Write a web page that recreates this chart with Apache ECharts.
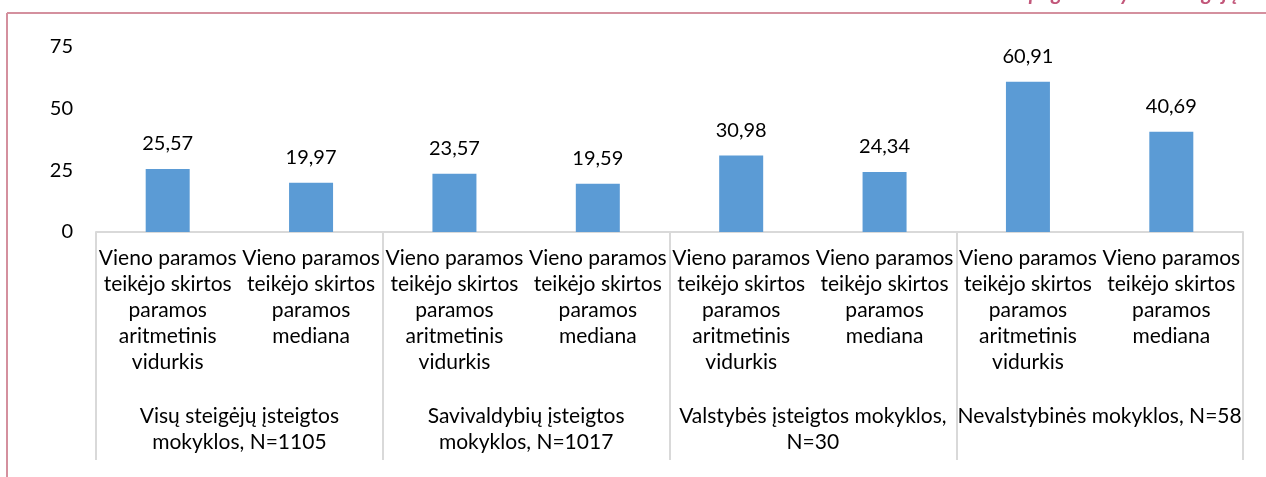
<!DOCTYPE html>
<html>
<head>
<meta charset="utf-8">
<script src="https://cdn.jsdelivr.net/npm/echarts@6/dist/echarts.min.js"></script>
<style>
  html, body { margin: 0; padding: 0; background: #fff; }
  #chart { width: 1266px; height: 477px; }
</style>
</head>
<body>
<div id="chart"></div>
<script>
// Vieno paramos teikėjo skirtos paramos vidurkis ir mediana pagal mokyklų grupes
const categories = [
  "Vieno paramos\nteikėjo skirtos\nparamos\naritmetinis\nvidurkis",
  "Vieno paramos\nteikėjo skirtos\nparamos\nmediana",
  "Vieno paramos\nteikėjo skirtos\nparamos\naritmetinis\nvidurkis",
  "Vieno paramos\nteikėjo skirtos\nparamos\nmediana",
  "Vieno paramos\nteikėjo skirtos\nparamos\naritmetinis\nvidurkis",
  "Vieno paramos\nteikėjo skirtos\nparamos\nmediana",
  "Vieno paramos\nteikėjo skirtos\nparamos\naritmetinis\nvidurkis",
  "Vieno paramos\nteikėjo skirtos\nparamos\nmediana"
];
const groups = [
  "Visų steigėjų įsteigtos\nmokyklos, N=1105",
  "Savivaldybių įsteigtos\nmokyklos, N=1017",
  "Valstybės įsteigtos mokyklos,\nN=30",
  "Nevalstybinės mokyklos, N=58"
];
const values = [25.57, 19.97, 23.57, 19.59, 30.98, 24.34, 60.91, 40.69];
const yTicks = [0, 25, 50, 75];

const FONT = "Lato";
const chart = echarts.init(document.getElementById("chart"), null, { renderer: "canvas" });
chart.setOption({
  backgroundColor: "#fff",
  animation: false,
  textStyle: { fontFamily: FONT },
  grid: { left: 96, right: 23, top: 47, bottom: 245, containLabel: false },
  yAxis: {
    type: "value",
    min: yTicks[0],
    max: yTicks[yTicks.length - 1],
    interval: 25,
    axisLine: { show: false },
    axisTick: { show: false },
    splitLine: { show: false },
    axisLabel: { margin: 23, fontSize: 20, color: "#000", fontFamily: FONT }
  },
  xAxis: [
    {
      type: "category",
      data: categories,
      position: "bottom",
      axisLine: { lineStyle: { color: "#d9d9d9", width: 2 } },
      axisTick: { show: false },
      axisLabel: { interval: 0, margin: 13, fontSize: 21, lineHeight: 26, color: "#000", fontFamily: FONT }
    },
    {
      type: "category",
      data: groups,
      position: "bottom",
      axisLine: { show: false },
      axisTick: { show: true, length: 228, lineStyle: { color: "#d9d9d9", width: 2 } },
      axisLabel: { interval: 0, margin: 171, fontSize: 21, lineHeight: 26, color: "#000", fontFamily: FONT }
    }
  ],
  series: [{
    type: "bar",
    xAxisIndex: 0,
    data: values,
    barWidth: 44,
    itemStyle: { color: "#5b9bd5" },
    label: {
      show: true,
      position: "top",
      distance: 15,
      fontSize: 20,
      color: "#000",
      fontFamily: FONT,
      formatter: (p) => p.value.toFixed(2).replace(".", ",")
    }
  }],
  graphic: [
    { type: "line", shape: { x1: 7, y1: 13, x2: 1266, y2: 13 }, style: { stroke: "#d4909e", lineWidth: 2 } },
    { type: "line", shape: { x1: 7, y1: 13, x2: 7, y2: 477 }, style: { stroke: "#d4909e", lineWidth: 2 } },
    { type: "text", right: 28, top: -17, style: { text: "pagal mokyklos steigėją", fill: "#c2577a", font: "italic bold 21px Lato" } }
  ]
});
</script>
</body>
</html>
